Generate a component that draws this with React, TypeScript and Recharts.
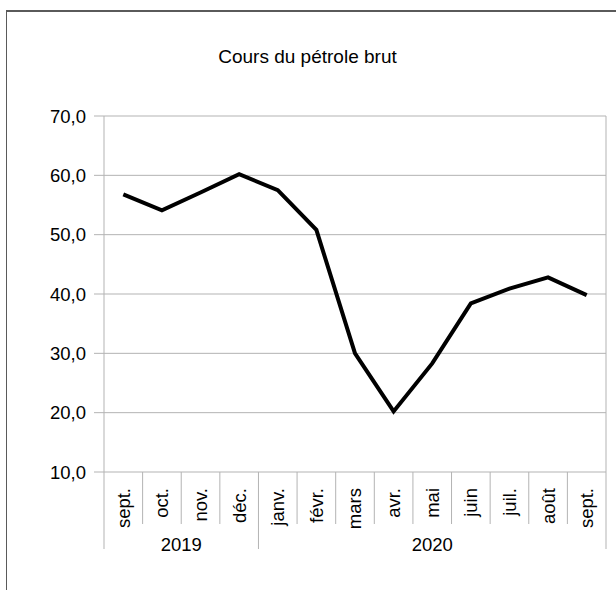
import React from "react";
import { LineChart, Line, XAxis, YAxis, CartesianGrid } from "recharts";

const months = ["sept.", "oct.", "nov.", "déc.", "janv.", "févr.", "mars", "avr.", "mai", "juin", "juil.", "août", "sept."];
const years = ["2019", "2019", "2019", "2019", "2020", "2020", "2020", "2020", "2020", "2020", "2020", "2020", "2020"];
const prices = [56.8, 54.1, 57.1, 60.2, 57.5, 50.8, 30.0, 20.2, 28.3, 38.4, 40.9, 42.8, 39.8];
const yTicks = [10, 20, 30, 40, 50, 60, 70];

const FONT = "'Liberation Sans', Arial, sans-serif";
const GRID = "#b3b3b3";

const data = months.map((m, i) => ({ idx: i, month: m, year: years[i], price: prices[i] }));

// month label rotated, with the divider lines and the year row underneath
function MonthTick(props: any) {
  const { x, y, payload, index } = props;
  const i = index ?? payload.index;
  const half = payload.offset || 19.3;
  const left = x - half;
  const yearStart = i === 0 || years[i] !== years[i - 1];
  const isLast = i === months.length - 1;
  let groupLen = 0;
  if (yearStart) {
    while (i + groupLen < years.length && years[i + groupLen] === years[i]) groupLen++;
  }
  return (
    <g>
      <line x1={left} x2={left} y1={y} y2={y + (yearStart ? 77 : 52)} stroke={GRID} />
      {isLast && <line x1={x + half} x2={x + half} y1={y} y2={y + 77} stroke={GRID} />}
      <text
        transform={`translate(${x},${y + 16}) rotate(-90)`}
        textAnchor="end"
        dy="0.35em"
        fill="#000"
        style={{ fontSize: 18.5, fontFamily: FONT }}
      >
        {months[i]}
      </text>
      {yearStart && (
        <text
          x={left + groupLen * half}
          y={y + 79}
          textAnchor="middle"
          fill="#000"
          style={{ fontSize: 18.5, fontFamily: FONT }}
        >
          {years[i]}
        </text>
      )}
    </g>
  );
}

const fmt = (v: number) => v.toFixed(1).replace(".", ",");

export default function App() {
  return (
    <div style={{ position: "absolute", left: 0, top: 0, width: 616, height: 590, overflow: "hidden", background: "#fff" }}>
      <div
        style={{
          position: "absolute",
          left: 6,
          top: 10,
          width: 640,
          height: 620,
          border: "1px solid #5a5a5a",
          borderTopWidth: 2,
        }}
      />
      <div
        style={{
          position: "absolute",
          left: 0,
          top: 46,
          width: 615,
          textAlign: "center",
          fontFamily: FONT,
          fontSize: 19,
          lineHeight: "22px",
          color: "#000",
        }}
      >
        Cours du pétrole brut
      </div>
      <div style={{ position: "absolute", left: 0, top: 0 }}>
        <LineChart width={616} height={590} data={data} margin={{ top: 116, right: 9, bottom: 18, left: 0 }}>
          <CartesianGrid vertical={false} stroke={GRID} />
          <XAxis
            dataKey="idx"
            type="category"
            scale="band"
            interval={0}
            height={100}
            axisLine={false}
            tickLine={false}
            tickSize={0}
            tickMargin={0}
            tick={<MonthTick />}
          />
          <YAxis
            domain={[10, 70]}
            ticks={yTicks}
            width={104}
            tickSize={10}
            tickMargin={8}
            tickFormatter={fmt}
            axisLine={{ stroke: GRID }}
            tickLine={{ stroke: GRID }}
            tick={{ fill: "#000", fontSize: 18.5, fontFamily: FONT }}
          />
          <YAxis
            yAxisId="right"
            orientation="right"
            domain={[10, 70]}
            width={1}
            tick={false}
            tickLine={false}
            axisLine={{ stroke: GRID }}
          />
          <Line
            type="linear"
            dataKey="price"
            stroke="#000"
            strokeWidth={4}
            dot={false}
            activeDot={false}
            isAnimationActive={false}
          />
        </LineChart>
      </div>
    </div>
  );
}
